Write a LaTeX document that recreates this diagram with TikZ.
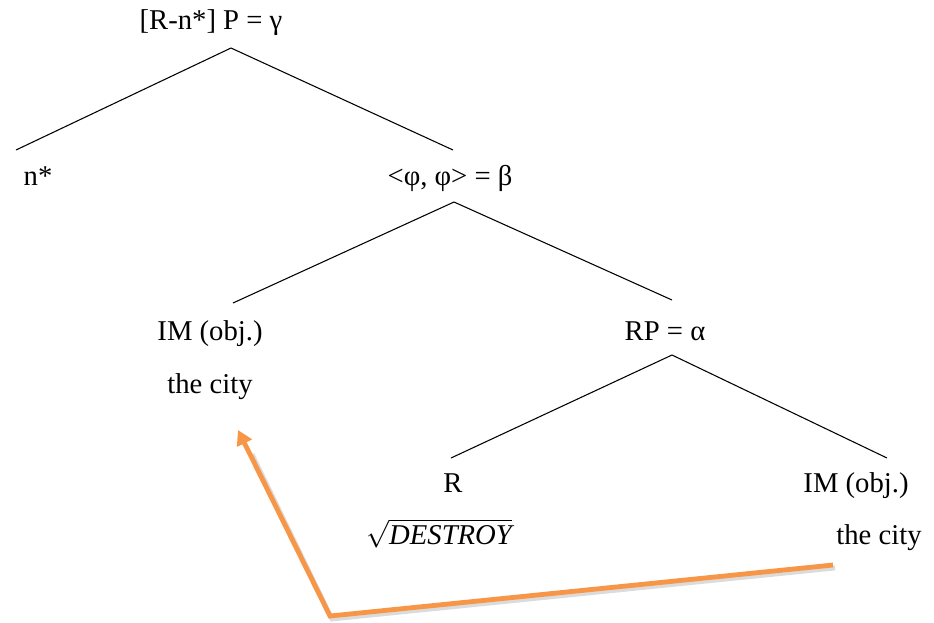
\documentclass[tikz,border=0pt]{standalone}
\usepackage{fontspec}
\setmainfont{Liberation Serif}
\usetikzlibrary{arrows.meta,calc}
\definecolor{arrorange}{HTML}{F79646}
\begin{document}
\begin{tikzpicture}[x=0.75pt,y=-0.75pt,
  lbl/.style={inner sep=0pt,font=\fontsize{21.5}{26}\selectfont,anchor=base},
  branch/.style={line width=0.8pt,black},
  movearrow/.style={line width=3.6pt,arrorange,-{Triangle[length=11pt,width=12pt]}},
  shadowline/.style={line width=3.6pt,black!14}]
\useasboundingbox (0,0) rectangle (934,622);
% labels
\node[lbl] (top) at (211,29) {[R-n*] P = γ};
\node[lbl] (nstar) at (38,185) {n*};
\node[lbl] (beta) at (450,185) {<φ, φ> = β};
\node[lbl] (imL) at (210,340) {IM (obj.)};
\node[lbl] (cityL) at (210,393) {the city};
\node[lbl] (rp) at (665,340) {RP = α};
\node[lbl] (r) at (453,492) {R};
\node[lbl] (root) at (439,544) {$\sqrt{\mathit{DESTROY}}$};
\node[lbl] (imR) at (856,492) {IM (obj.)};
\node[lbl] (cityR) at (879,544) {the city};
% branch points
\coordinate (a0) at (231,48);
\coordinate (a0l) at (16,150);
\coordinate (a0r) at (453,150);
\coordinate (a1) at (454,202);
\coordinate (a1l) at (233,303);
\coordinate (a1r) at (672,300);
\coordinate (a2) at (672,355);
\coordinate (a2l) at (451,458);
\coordinate (a2r) at (887,458);
\draw[branch] (a0l) -- (a0) -- (a0r);
\draw[branch] (a1l) -- (a1) -- (a1r);
\draw[branch] (a2l) -- (a2) -- (a2r);
% orange movement arrow
\coordinate (s) at (833,565);
\coordinate (c) at (330,616);
\coordinate (e) at (238,430);
\coordinate (e9) at ($(c)!0.88!(e)$);
\draw[shadowline] ([shift={(2,3)}]s) -- ([shift={(2,3)}]c) -- ([shift={(3,2)}]e9);
\draw[movearrow] (s) -- (c) -- (e);
\end{tikzpicture}
\end{document}
